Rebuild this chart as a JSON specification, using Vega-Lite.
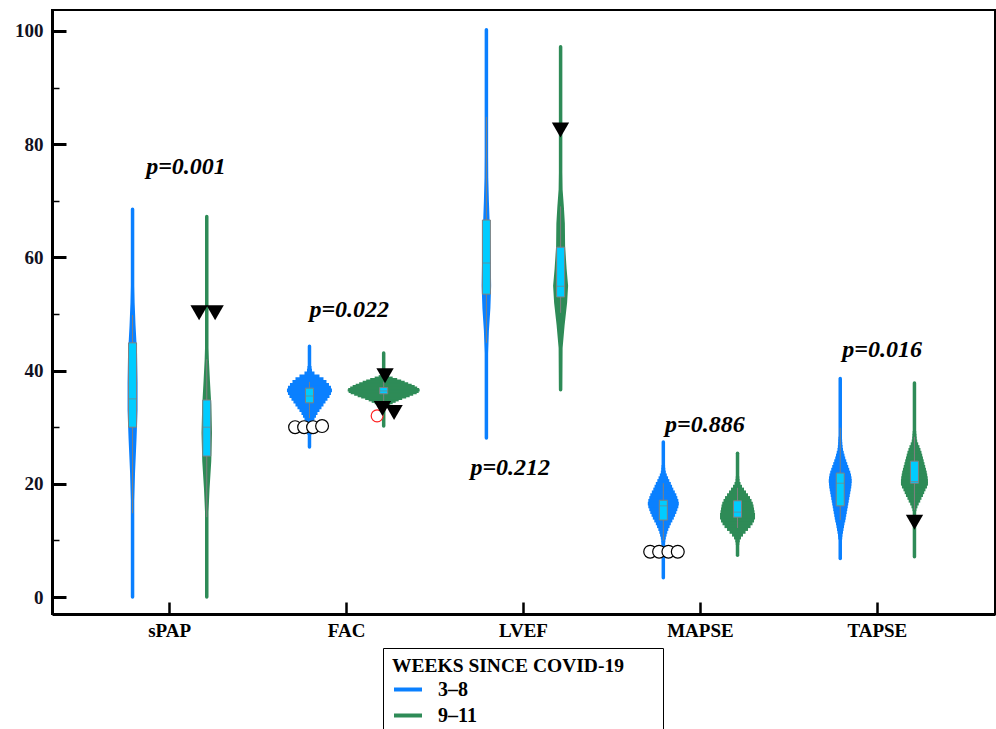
{
  "$schema": "https://vega.github.io/schema/vega-lite/v6.json",
  "width": 943,
  "height": 604,
  "autosize": {"type": "none"},
  "padding": {"left": 52, "top": 10, "right": 1, "bottom": 115},
  "background": "white",
  "config": {
    "view": {"stroke": "black", "strokeWidth": 2},
    "font": "Liberation Serif",
    "axisX": {
      "bandPosition": 0.5,
      "tickSize": -12,
      "tickWidth": 2.5,
      "tickColor": "black",
      "domainColor": "black",
      "domainWidth": 3,
      "labelFont": "Liberation Serif",
      "labelFontSize": 19,
      "labelFontWeight": "bold",
      "labelColor": "black",
      "labelAngle": 0,
      "labelPadding": 19,
      "grid": false,
      "title": null
    },
    "axisY": {
      "tickColor": "black",
      "domainColor": "black",
      "domainWidth": 3,
      "labelFont": "Liberation Serif",
      "labelFontSize": 19,
      "labelFontWeight": "bold",
      "labelColor": "#111122",
      "labelPadding": 23,
      "grid": false,
      "title": null
    }
  },
  "datasets": {
    "violin": [
      {"metric": "sPAP", "group": "3–8", "value": 0, "density": 3.5},
      {"metric": "sPAP", "group": "3–8", "value": 17, "density": 3.5},
      {"metric": "sPAP", "group": "3–8", "value": 22, "density": 5},
      {"metric": "sPAP", "group": "3–8", "value": 28, "density": 8},
      {"metric": "sPAP", "group": "3–8", "value": 33, "density": 10},
      {"metric": "sPAP", "group": "3–8", "value": 38, "density": 10},
      {"metric": "sPAP", "group": "3–8", "value": 43, "density": 9},
      {"metric": "sPAP", "group": "3–8", "value": 48, "density": 6},
      {"metric": "sPAP", "group": "3–8", "value": 52, "density": 4.2},
      {"metric": "sPAP", "group": "3–8", "value": 55, "density": 3.5},
      {"metric": "sPAP", "group": "3–8", "value": 68.5, "density": 3.5},
      {"metric": "sPAP", "group": "9–11", "value": 0, "density": 3.5},
      {"metric": "sPAP", "group": "9–11", "value": 15, "density": 3.5},
      {"metric": "sPAP", "group": "9–11", "value": 19, "density": 5.5},
      {"metric": "sPAP", "group": "9–11", "value": 24, "density": 9},
      {"metric": "sPAP", "group": "9–11", "value": 29, "density": 10.5},
      {"metric": "sPAP", "group": "9–11", "value": 34, "density": 9},
      {"metric": "sPAP", "group": "9–11", "value": 38, "density": 6.5},
      {"metric": "sPAP", "group": "9–11", "value": 42, "density": 4.2},
      {"metric": "sPAP", "group": "9–11", "value": 44, "density": 3.5},
      {"metric": "sPAP", "group": "9–11", "value": 67.2, "density": 3.5},
      {"metric": "FAC", "group": "3–8", "value": 26.5, "density": 3.5},
      {"metric": "FAC", "group": "3–8", "value": 44.3, "density": 3.5},
      {"metric": "FAC", "group": "9–11", "value": 30.2, "density": 3.5},
      {"metric": "FAC", "group": "9–11", "value": 43.1, "density": 3.5},
      {"metric": "LVEF", "group": "3–8", "value": 28.1, "density": 3.5},
      {"metric": "LVEF", "group": "3–8", "value": 43, "density": 3.5},
      {"metric": "LVEF", "group": "3–8", "value": 47, "density": 5},
      {"metric": "LVEF", "group": "3–8", "value": 51, "density": 8},
      {"metric": "LVEF", "group": "3–8", "value": 55, "density": 9.5},
      {"metric": "LVEF", "group": "3–8", "value": 60, "density": 8.5},
      {"metric": "LVEF", "group": "3–8", "value": 65, "density": 7},
      {"metric": "LVEF", "group": "3–8", "value": 70, "density": 5},
      {"metric": "LVEF", "group": "3–8", "value": 74, "density": 3.8},
      {"metric": "LVEF", "group": "3–8", "value": 78, "density": 3.5},
      {"metric": "LVEF", "group": "3–8", "value": 100.2, "density": 3.5},
      {"metric": "LVEF", "group": "9–11", "value": 36.6, "density": 3.5},
      {"metric": "LVEF", "group": "9–11", "value": 44, "density": 4},
      {"metric": "LVEF", "group": "9–11", "value": 48, "density": 8},
      {"metric": "LVEF", "group": "9–11", "value": 52, "density": 13},
      {"metric": "LVEF", "group": "9–11", "value": 55, "density": 15},
      {"metric": "LVEF", "group": "9–11", "value": 58, "density": 12},
      {"metric": "LVEF", "group": "9–11", "value": 62, "density": 9},
      {"metric": "LVEF", "group": "9–11", "value": 66, "density": 8.5},
      {"metric": "LVEF", "group": "9–11", "value": 69, "density": 6.5},
      {"metric": "LVEF", "group": "9–11", "value": 72, "density": 4},
      {"metric": "LVEF", "group": "9–11", "value": 75, "density": 3.5},
      {"metric": "LVEF", "group": "9–11", "value": 97.2, "density": 3.5},
      {"metric": "MAPSE", "group": "3–8", "value": 3.4, "density": 3.5},
      {"metric": "MAPSE", "group": "3–8", "value": 27.4, "density": 3.5},
      {"metric": "MAPSE", "group": "9–11", "value": 7.4, "density": 3.5},
      {"metric": "MAPSE", "group": "9–11", "value": 25.4, "density": 3.5},
      {"metric": "TAPSE", "group": "3–8", "value": 6.8, "density": 3.5},
      {"metric": "TAPSE", "group": "3–8", "value": 38.6, "density": 3.5},
      {"metric": "TAPSE", "group": "9–11", "value": 7.1, "density": 3.5},
      {"metric": "TAPSE", "group": "9–11", "value": 37.8, "density": 3.5}
    ],
    "slicesHalf": [
      {"metric": "FAC", "group": "3–8", "value": 40.5, "density": 4},
      {"metric": "FAC", "group": "3–8", "value": 40.0, "density": 5},
      {"metric": "FAC", "group": "3–8", "value": 39.5, "density": 10},
      {"metric": "FAC", "group": "3–8", "value": 39.0, "density": 20},
      {"metric": "FAC", "group": "3–8", "value": 38.5, "density": 28},
      {"metric": "FAC", "group": "3–8", "value": 38.0, "density": 34},
      {"metric": "FAC", "group": "3–8", "value": 37.5, "density": 39},
      {"metric": "FAC", "group": "3–8", "value": 37.0, "density": 43},
      {"metric": "FAC", "group": "3–8", "value": 36.5, "density": 45},
      {"metric": "FAC", "group": "3–8", "value": 36.0, "density": 43},
      {"metric": "FAC", "group": "3–8", "value": 35.5, "density": 40},
      {"metric": "FAC", "group": "3–8", "value": 35.0, "density": 36},
      {"metric": "FAC", "group": "3–8", "value": 34.5, "density": 32},
      {"metric": "FAC", "group": "3–8", "value": 34.0, "density": 28},
      {"metric": "FAC", "group": "3–8", "value": 33.5, "density": 24},
      {"metric": "FAC", "group": "3–8", "value": 33.0, "density": 20},
      {"metric": "FAC", "group": "3–8", "value": 32.5, "density": 16},
      {"metric": "FAC", "group": "3–8", "value": 32.0, "density": 13},
      {"metric": "FAC", "group": "3–8", "value": 31.5, "density": 10},
      {"metric": "FAC", "group": "3–8", "value": 31.0, "density": 8},
      {"metric": "FAC", "group": "3–8", "value": 30.5, "density": 7},
      {"metric": "FAC", "group": "3–8", "value": 30.0, "density": 6},
      {"metric": "FAC", "group": "3–8", "value": 29.5, "density": 5},
      {"metric": "FAC", "group": "3–8", "value": 29.0, "density": 4.5},

      {"metric": "MAPSE", "group": "3–8", "value": 23.0, "density": 3.5},
      {"metric": "MAPSE", "group": "3–8", "value": 22.5, "density": 4},
      {"metric": "MAPSE", "group": "3–8", "value": 22.0, "density": 5},
      {"metric": "MAPSE", "group": "3–8", "value": 21.5, "density": 7},
      {"metric": "MAPSE", "group": "3–8", "value": 21.0, "density": 9.5},
      {"metric": "MAPSE", "group": "3–8", "value": 20.5, "density": 12},
      {"metric": "MAPSE", "group": "3–8", "value": 20.0, "density": 15},
      {"metric": "MAPSE", "group": "3–8", "value": 19.5, "density": 17.5},
      {"metric": "MAPSE", "group": "3–8", "value": 19.0, "density": 20},
      {"metric": "MAPSE", "group": "3–8", "value": 18.5, "density": 23},
      {"metric": "MAPSE", "group": "3–8", "value": 18.0, "density": 26},
      {"metric": "MAPSE", "group": "3–8", "value": 17.5, "density": 28},
      {"metric": "MAPSE", "group": "3–8", "value": 17.0, "density": 30},
      {"metric": "MAPSE", "group": "3–8", "value": 16.5, "density": 31},
      {"metric": "MAPSE", "group": "3–8", "value": 16.0, "density": 30},
      {"metric": "MAPSE", "group": "3–8", "value": 15.5, "density": 28},
      {"metric": "MAPSE", "group": "3–8", "value": 15.0, "density": 26},
      {"metric": "MAPSE", "group": "3–8", "value": 14.5, "density": 23.5},
      {"metric": "MAPSE", "group": "3–8", "value": 14.0, "density": 21},
      {"metric": "MAPSE", "group": "3–8", "value": 13.5, "density": 18},
      {"metric": "MAPSE", "group": "3–8", "value": 13.0, "density": 15},
      {"metric": "MAPSE", "group": "3–8", "value": 12.5, "density": 12.5},
      {"metric": "MAPSE", "group": "3–8", "value": 12.0, "density": 10},
      {"metric": "MAPSE", "group": "3–8", "value": 11.5, "density": 8},
      {"metric": "MAPSE", "group": "3–8", "value": 11.0, "density": 6.5},
      {"metric": "MAPSE", "group": "3–8", "value": 10.5, "density": 5},
      {"metric": "MAPSE", "group": "3–8", "value": 10.0, "density": 4},
      {"metric": "MAPSE", "group": "3–8", "value": 9.5, "density": 3.5},

      {"metric": "MAPSE", "group": "9–11", "value": 21.0, "density": 3.5},
      {"metric": "MAPSE", "group": "9–11", "value": 20.5, "density": 4},
      {"metric": "MAPSE", "group": "9–11", "value": 20.0, "density": 6},
      {"metric": "MAPSE", "group": "9–11", "value": 19.5, "density": 9},
      {"metric": "MAPSE", "group": "9–11", "value": 19.0, "density": 13},
      {"metric": "MAPSE", "group": "9–11", "value": 18.5, "density": 17},
      {"metric": "MAPSE", "group": "9–11", "value": 18.0, "density": 21},
      {"metric": "MAPSE", "group": "9–11", "value": 17.5, "density": 25},
      {"metric": "MAPSE", "group": "9–11", "value": 17.0, "density": 28},
      {"metric": "MAPSE", "group": "9–11", "value": 16.5, "density": 30.5},
      {"metric": "MAPSE", "group": "9–11", "value": 16.0, "density": 32},
      {"metric": "MAPSE", "group": "9–11", "value": 15.5, "density": 33},
      {"metric": "MAPSE", "group": "9–11", "value": 15.0, "density": 34},
      {"metric": "MAPSE", "group": "9–11", "value": 14.5, "density": 35},
      {"metric": "MAPSE", "group": "9–11", "value": 14.0, "density": 35},
      {"metric": "MAPSE", "group": "9–11", "value": 13.5, "density": 33},
      {"metric": "MAPSE", "group": "9–11", "value": 13.0, "density": 30},
      {"metric": "MAPSE", "group": "9–11", "value": 12.5, "density": 26},
      {"metric": "MAPSE", "group": "9–11", "value": 12.0, "density": 21},
      {"metric": "MAPSE", "group": "9–11", "value": 11.5, "density": 16},
      {"metric": "MAPSE", "group": "9–11", "value": 11.0, "density": 11},
      {"metric": "MAPSE", "group": "9–11", "value": 10.5, "density": 7},
      {"metric": "MAPSE", "group": "9–11", "value": 10.0, "density": 4.5},
      {"metric": "MAPSE", "group": "9–11", "value": 9.5, "density": 3.5},

      {"metric": "TAPSE", "group": "3–8", "value": 28.0, "density": 3.5},
      {"metric": "TAPSE", "group": "3–8", "value": 27.5, "density": 3.8},
      {"metric": "TAPSE", "group": "3–8", "value": 27.0, "density": 4.2},
      {"metric": "TAPSE", "group": "3–8", "value": 26.5, "density": 4.8},
      {"metric": "TAPSE", "group": "3–8", "value": 26.0, "density": 5.5},
      {"metric": "TAPSE", "group": "3–8", "value": 25.5, "density": 7},
      {"metric": "TAPSE", "group": "3–8", "value": 25.0, "density": 8.5},
      {"metric": "TAPSE", "group": "3–8", "value": 24.5, "density": 10},
      {"metric": "TAPSE", "group": "3–8", "value": 24.0, "density": 12},
      {"metric": "TAPSE", "group": "3–8", "value": 23.5, "density": 14},
      {"metric": "TAPSE", "group": "3–8", "value": 23.0, "density": 16},
      {"metric": "TAPSE", "group": "3–8", "value": 22.5, "density": 18},
      {"metric": "TAPSE", "group": "3–8", "value": 22.0, "density": 20},
      {"metric": "TAPSE", "group": "3–8", "value": 21.5, "density": 21.5},
      {"metric": "TAPSE", "group": "3–8", "value": 21.0, "density": 22.5},
      {"metric": "TAPSE", "group": "3–8", "value": 20.5, "density": 23},
      {"metric": "TAPSE", "group": "3–8", "value": 20.0, "density": 22.5},
      {"metric": "TAPSE", "group": "3–8", "value": 19.5, "density": 22},
      {"metric": "TAPSE", "group": "3–8", "value": 19.0, "density": 21},
      {"metric": "TAPSE", "group": "3–8", "value": 18.5, "density": 20},
      {"metric": "TAPSE", "group": "3–8", "value": 18.0, "density": 19},
      {"metric": "TAPSE", "group": "3–8", "value": 17.5, "density": 18},
      {"metric": "TAPSE", "group": "3–8", "value": 17.0, "density": 17},
      {"metric": "TAPSE", "group": "3–8", "value": 16.5, "density": 16},
      {"metric": "TAPSE", "group": "3–8", "value": 16.0, "density": 15},
      {"metric": "TAPSE", "group": "3–8", "value": 15.5, "density": 14},
      {"metric": "TAPSE", "group": "3–8", "value": 15.0, "density": 13},
      {"metric": "TAPSE", "group": "3–8", "value": 14.5, "density": 12},
      {"metric": "TAPSE", "group": "3–8", "value": 14.0, "density": 11},
      {"metric": "TAPSE", "group": "3–8", "value": 13.5, "density": 10},
      {"metric": "TAPSE", "group": "3–8", "value": 13.0, "density": 8.5},
      {"metric": "TAPSE", "group": "3–8", "value": 12.5, "density": 7.5},
      {"metric": "TAPSE", "group": "3–8", "value": 12.0, "density": 6.5},
      {"metric": "TAPSE", "group": "3–8", "value": 11.5, "density": 5.5},
      {"metric": "TAPSE", "group": "3–8", "value": 11.0, "density": 4.5},
      {"metric": "TAPSE", "group": "3–8", "value": 10.5, "density": 4},

      {"metric": "TAPSE", "group": "9–11", "value": 29.0, "density": 3.5},
      {"metric": "TAPSE", "group": "9–11", "value": 28.5, "density": 4},
      {"metric": "TAPSE", "group": "9–11", "value": 28.0, "density": 4.5},
      {"metric": "TAPSE", "group": "9–11", "value": 27.5, "density": 5.5},
      {"metric": "TAPSE", "group": "9–11", "value": 27.0, "density": 7.5},
      {"metric": "TAPSE", "group": "9–11", "value": 26.5, "density": 10},
      {"metric": "TAPSE", "group": "9–11", "value": 26.0, "density": 12},
      {"metric": "TAPSE", "group": "9–11", "value": 25.5, "density": 14},
      {"metric": "TAPSE", "group": "9–11", "value": 25.0, "density": 15.5},
      {"metric": "TAPSE", "group": "9–11", "value": 24.5, "density": 17},
      {"metric": "TAPSE", "group": "9–11", "value": 24.0, "density": 18.5},
      {"metric": "TAPSE", "group": "9–11", "value": 23.5, "density": 20},
      {"metric": "TAPSE", "group": "9–11", "value": 23.0, "density": 21.5},
      {"metric": "TAPSE", "group": "9–11", "value": 22.5, "density": 23},
      {"metric": "TAPSE", "group": "9–11", "value": 22.0, "density": 24.5},
      {"metric": "TAPSE", "group": "9–11", "value": 21.5, "density": 25.5},
      {"metric": "TAPSE", "group": "9–11", "value": 21.0, "density": 26.5},
      {"metric": "TAPSE", "group": "9–11", "value": 20.5, "density": 27},
      {"metric": "TAPSE", "group": "9–11", "value": 20.0, "density": 27},
      {"metric": "TAPSE", "group": "9–11", "value": 19.5, "density": 25},
      {"metric": "TAPSE", "group": "9–11", "value": 19.0, "density": 22},
      {"metric": "TAPSE", "group": "9–11", "value": 18.5, "density": 19.5},
      {"metric": "TAPSE", "group": "9–11", "value": 18.0, "density": 17},
      {"metric": "TAPSE", "group": "9–11", "value": 17.5, "density": 14},
      {"metric": "TAPSE", "group": "9–11", "value": 17.0, "density": 11.5},
      {"metric": "TAPSE", "group": "9–11", "value": 16.5, "density": 8.5},
      {"metric": "TAPSE", "group": "9–11", "value": 16.0, "density": 6},
      {"metric": "TAPSE", "group": "9–11", "value": 15.5, "density": 4}
    ],
    "slicesQuarter": [
      {"metric": "FAC", "group": "9–11", "value": 39.50, "density": 4},
      {"metric": "FAC", "group": "9–11", "value": 39.25, "density": 6},
      {"metric": "FAC", "group": "9–11", "value": 39.00, "density": 10},
      {"metric": "FAC", "group": "9–11", "value": 38.75, "density": 18},
      {"metric": "FAC", "group": "9–11", "value": 38.50, "density": 27},
      {"metric": "FAC", "group": "9–11", "value": 38.25, "density": 35},
      {"metric": "FAC", "group": "9–11", "value": 38.00, "density": 42},
      {"metric": "FAC", "group": "9–11", "value": 37.75, "density": 49},
      {"metric": "FAC", "group": "9–11", "value": 37.50, "density": 56},
      {"metric": "FAC", "group": "9–11", "value": 37.25, "density": 62},
      {"metric": "FAC", "group": "9–11", "value": 37.00, "density": 67},
      {"metric": "FAC", "group": "9–11", "value": 36.75, "density": 71},
      {"metric": "FAC", "group": "9–11", "value": 36.50, "density": 72},
      {"metric": "FAC", "group": "9–11", "value": 36.25, "density": 70},
      {"metric": "FAC", "group": "9–11", "value": 36.00, "density": 66},
      {"metric": "FAC", "group": "9–11", "value": 35.75, "density": 59},
      {"metric": "FAC", "group": "9–11", "value": 35.50, "density": 52},
      {"metric": "FAC", "group": "9–11", "value": 35.25, "density": 45},
      {"metric": "FAC", "group": "9–11", "value": 35.00, "density": 37},
      {"metric": "FAC", "group": "9–11", "value": 34.75, "density": 30},
      {"metric": "FAC", "group": "9–11", "value": 34.50, "density": 24},
      {"metric": "FAC", "group": "9–11", "value": 34.25, "density": 18},
      {"metric": "FAC", "group": "9–11", "value": 34.00, "density": 13},
      {"metric": "FAC", "group": "9–11", "value": 33.75, "density": 9},
      {"metric": "FAC", "group": "9–11", "value": 33.50, "density": 6},
      {"metric": "FAC", "group": "9–11", "value": 33.25, "density": 4.5}
    ],
    "box": [
      {"metric": "sPAP", "group": "3–8", "lo": 14.8, "q1": 30, "med": 35, "q3": 44.9, "hi": 49.8},
      {"metric": "sPAP", "group": "9–11", "lo": 14.1, "q1": 24.9, "med": 30, "q3": 34.8, "hi": 42},
      {"metric": "FAC", "group": "3–8", "lo": 31.6, "q1": 34.3, "med": 35.5, "q3": 36.9, "hi": 38},
      {"metric": "FAC", "group": "9–11", "lo": 34.5, "q1": 35.9, "med": 36.4, "q3": 37, "hi": 38},
      {"metric": "LVEF", "group": "3–8", "lo": 44.9, "q1": 53.5, "med": 59, "q3": 66.6, "hi": 84.8},
      {"metric": "LVEF", "group": "9–11", "lo": 50.2, "q1": 53, "med": 54.9, "q3": 61.8, "hi": 69},
      {"metric": "MAPSE", "group": "3–8", "lo": 10, "q1": 13.6, "med": 16.1, "q3": 17.1, "hi": 20.1},
      {"metric": "MAPSE", "group": "9–11", "lo": 12.2, "q1": 14.1, "med": 15, "q3": 17, "hi": 19.3},
      {"metric": "TAPSE", "group": "3–8", "lo": 13.6, "q1": 16.1, "med": 20.1, "q3": 21.9, "hi": 29.9},
      {"metric": "TAPSE", "group": "9–11", "lo": 15.4, "q1": 20.1, "med": 20.4, "q3": 24, "hi": 28.3}
    ],
    "circles": [
      {"metric": "FAC", "jit": -0.582, "value": 30.0},
      {"metric": "FAC", "jit": -0.480, "value": 30.0},
      {"metric": "FAC", "jit": -0.379, "value": 30.0},
      {"metric": "FAC", "jit": -0.277, "value": 30.2},
      {"metric": "MAPSE", "jit": -0.568, "value": 8.0},
      {"metric": "MAPSE", "jit": -0.467, "value": 8.0},
      {"metric": "MAPSE", "jit": -0.362, "value": 8.0},
      {"metric": "MAPSE", "jit": -0.256, "value": 8.0}
    ],
    "redcircles": [
      {"metric": "FAC", "jit": 0.345, "value": 32.0}
    ],
    "triangles": [
      {"metric": "sPAP", "jit": 0.333, "value": 50.2},
      {"metric": "sPAP", "jit": 0.514, "value": 50.2},
      {"metric": "FAC", "jit": 0.435, "value": 39.1},
      {"metric": "FAC", "jit": 0.405, "value": 33.3},
      {"metric": "FAC", "jit": 0.537, "value": 32.6},
      {"metric": "LVEF", "jit": 0.418, "value": 82.5},
      {"metric": "TAPSE", "jit": 0.42, "value": 13.2}
    ],
    "pvalues": [
      {"metric": "sPAP", "jit": 0.185, "value": 76.0, "label": "p=0.001"},
      {"metric": "FAC", "jit": 0.03, "value": 50.7, "label": "p=0.022"},
      {"metric": "LVEF", "jit": -0.15, "value": 22.8, "label": "p=0.212"},
      {"metric": "MAPSE", "jit": 0.05, "value": 30.4, "label": "p=0.886"},
      {"metric": "TAPSE", "jit": 0.054, "value": 43.6, "label": "p=0.016"}
    ]
  },
  "encoding": {
    "x": {
      "field": "metric",
      "type": "nominal",
      "scale": {"domain": ["sPAP", "FAC", "LVEF", "MAPSE", "TAPSE"], "paddingInner": 0, "paddingOuter": 0.165},
      "title": null
    }
  },
  "layer": [
    {
      "encoding": {
        "xOffset": {"field": "group", "type": "nominal", "scale": {"domain": ["3–8", "9–11"], "paddingInner": 0, "paddingOuter": 0.192}}
      },
      "layer": [
        {
          "data": {"name": "violin"},
          "mark": {"type": "trail"},
          "encoding": {
            "y": {
              "field": "value",
              "type": "quantitative",
              "scale": {"domain": [-3, 103.7], "nice": false, "zero": false},
              "title": null,
              "axis": {
                "values": [0, 10, 20, 30, 40, 50, 60, 70, 80, 90, 100],
                "labelExpr": "datum.value % 20 == 0 ? datum.label : ''",
                "tickSize": {"condition": {"test": "datum.value % 20 == 0", "value": -14}, "value": -7},
                "tickWidth": {"condition": {"test": "datum.value % 20 == 0", "value": 3}, "value": 1.5}
              }
            },
            "size": {"field": "density", "type": "quantitative", "scale": {"domain": [0, 80], "range": [0, 80], "zero": true}, "legend": null},
            "color": {
              "field": "group",
              "type": "nominal",
              "scale": {"domain": ["3–8", "9–11"], "range": ["#0a80ff", "#2e8b57"]},
              "legend": {
                "orient": "none",
                "legendX": 331,
                "legendY": 638,
                "direction": "vertical",
                "title": "WEEKS SINCE COVID-19\u2800\u2800",
                "titleLimit": 500,
                "titleFont": "Liberation Serif",
                "titleFontSize": 19.5,
                "titleFontWeight": "bold",
                "titleColor": "black",
                "titlePadding": -3,
                "labelFont": "Liberation Serif",
                "labelFontSize": 20,
                "labelFontWeight": "bold",
                "labelColor": "black",
                "labelOffset": 14,
                "symbolType": "stroke",
                "symbolStrokeWidth": 4,
                "symbolSize": 784,
                "rowPadding": 0,
                "padding": 9,
                "strokeColor": "black",
                "fillColor": "white"
              }
            },
            "detail": {"field": "metric", "type": "nominal"},
            "order": {"field": "value", "type": "quantitative"}
          }
        },
        {
          "data": {"name": "slicesHalf"},
          "mark": {"type": "tick", "thickness": 3.7, "opacity": 1},
          "encoding": {
            "y": {"field": "value", "type": "quantitative"},
            "size": {"field": "density", "type": "quantitative"},
            "color": {"field": "group", "type": "nominal"}
          }
        },
        {
          "data": {"name": "slicesQuarter"},
          "mark": {"type": "tick", "thickness": 2.2, "opacity": 1},
          "encoding": {
            "y": {"field": "value", "type": "quantitative"},
            "size": {"field": "density", "type": "quantitative"},
            "color": {"field": "group", "type": "nominal"}
          }
        },
        {
          "data": {"name": "box"},
          "mark": {"type": "rule", "color": "#808080", "strokeWidth": 1},
          "encoding": {
            "y": {"field": "lo", "type": "quantitative"},
            "y2": {"field": "hi"}
          }
        },
        {
          "data": {"name": "box"},
          "mark": {"type": "bar", "width": 8, "fill": "#00ccff", "stroke": "#808080", "strokeWidth": 1},
          "encoding": {
            "y": {"field": "q1", "type": "quantitative"},
            "y2": {"field": "q3"}
          }
        },
        {
          "data": {"name": "box"},
          "mark": {"type": "tick", "color": "#808080", "size": 8, "thickness": 1},
          "encoding": {
            "y": {"field": "med", "type": "quantitative"}
          }
        }
      ]
    },
    {
      "encoding": {
        "xOffset": {"field": "jit", "type": "quantitative", "scale": {"domain": [-1, 1], "nice": false, "zero": false}}
      },
      "layer": [
        {
          "data": {"name": "circles"},
          "mark": {"type": "point", "shape": "circle", "filled": true, "fill": "white", "stroke": "black", "strokeWidth": 1.2, "size": 165, "opacity": 1},
          "encoding": {"y": {"field": "value", "type": "quantitative"}}
        },
        {
          "data": {"name": "redcircles"},
          "mark": {"type": "point", "shape": "circle", "filled": true, "fill": "white", "stroke": "#ff2020", "strokeWidth": 1.2, "size": 140, "opacity": 1},
          "encoding": {"y": {"field": "value", "type": "quantitative"}}
        },
        {
          "data": {"name": "triangles"},
          "mark": {"type": "point", "shape": "triangle-down", "filled": true, "color": "black", "size": 300, "opacity": 1},
          "encoding": {"y": {"field": "value", "type": "quantitative"}}
        },
        {
          "data": {"name": "pvalues"},
          "mark": {"type": "text", "font": "Liberation Serif", "fontStyle": "italic", "fontWeight": "bold", "fontSize": 24, "color": "black", "baseline": "middle", "align": "center"},
          "encoding": {
            "y": {"field": "value", "type": "quantitative"},
            "text": {"field": "label"}
          }
        }
      ]
    }
  ],
  "resolve": {"scale": {"xOffset": "independent"}}
}
